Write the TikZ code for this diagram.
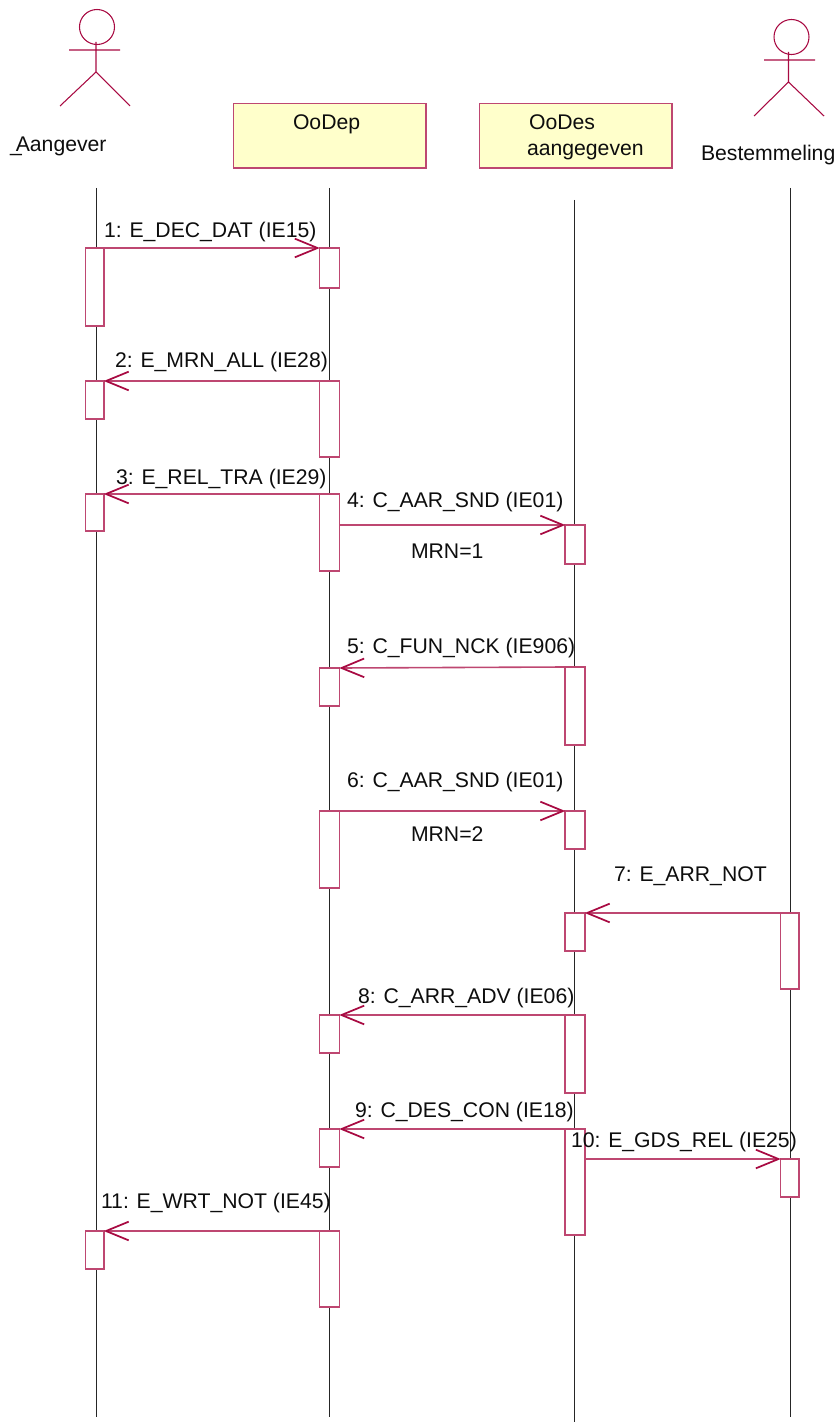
\documentclass[tikz,border=0pt]{standalone}
\usepackage{fontspec}
\setmainfont{Liberation Sans}
\usetikzlibrary{arrows.meta}
\definecolor{umlred}{HTML}{A80A42}
\definecolor{umlfill}{HTML}{FFFFCB}
\tikzset{
  life/.style={draw=black!85,line width=0.75pt},
  act/.style={draw=umlred!75,fill=white,line width=1.1pt,inner sep=0pt,outer sep=0pt,anchor=north west,minimum width=#1*0.75pt},
  act/.default=20,
  objbox/.style={draw=umlred!75,fill=umlfill,line width=1.1pt,inner sep=0pt,outer sep=0pt,anchor=north west,minimum width=192.5*0.75pt,minimum height=64.5*0.75pt},
  actorline/.style={draw=umlred,line width=0.8pt},
  msg/.style={draw=umlred!75,line width=1.2pt,shorten >=-0.2pt,-{Straight Barb[length=17pt,width=14pt,line width=1.3pt,color=umlred]}},
  txt/.style={font=\fontsize{15.9pt}{18pt}\selectfont,inner sep=0pt,outer sep=0pt,anchor=base west,text=black!95,yshift=-0.5pt},
}
\newcommand{\actv}[5]{\node[act=#3,minimum height=#5*0.75pt] (#1) at (#2,#4) {};}
\begin{document}
\begin{tikzpicture}[x=0.75pt,y=-0.75pt]
\useasboundingbox (0,0) rectangle (839,1423);
% lifelines
\coordinate (la) at (96,188);\coordinate (lab) at (96,1417);
\coordinate (lb) at (329.5,188);\coordinate (lbb) at (329.5,1417);
\coordinate (lc) at (574,200);\coordinate (lcb) at (574,1422);
\coordinate (ld) at (790.5,188);\coordinate (ldb) at (790.5,1417);
\draw[life] (la)--(lab);
\draw[life] (lb)--(lbb);
\draw[life] (lc)--(lcb);
\draw[life] (ld)--(ldb);
% actors
\node[draw=umlred,line width=0.8pt,circle,minimum size=35*0.75pt,inner sep=0pt,outer sep=0pt] (heada) at (97,27) {};
\coordinate (neck1) at (96,42);\coordinate (hip1) at (96,72);
\coordinate (arm1l) at (69,50);\coordinate (arm1r) at (120,50);
\coordinate (leg1l) at (60,106);\coordinate (leg1r) at (130,106);
\draw[actorline] (neck1)--(hip1) (arm1l)--(arm1r) (leg1l)--(hip1)--(leg1r);
\node[draw=umlred,line width=0.8pt,circle,minimum size=35*0.75pt,inner sep=0pt,outer sep=0pt] (headb) at (791.5,37) {};
\coordinate (neck2) at (788.5,52);\coordinate (hip2) at (788.5,82);
\coordinate (arm2l) at (764,60);\coordinate (arm2r) at (815,60);
\coordinate (leg2l) at (754,116);\coordinate (leg2r) at (824,116);
\draw[actorline] (neck2)--(hip2) (arm2l)--(arm2r) (leg2l)--(hip2)--(leg2r);
% objects
\node[objbox] (oodep) at (233.5,103.7) {};
\node[objbox] (oodes) at (479.5,103.7) {};
\node[txt] (toodep) at (293,129) {OoDep};
\node[txt] (toodes) at (529,129) {OoDes};
\node[txt] (taang) at (527,155) {aangegeven};
\node[txt] (taangever) at (10,151) {\_\kern-4.5pt Aangever};
\node[txt] (tbest) at (701,160) {Bestemmeling};
% activations
\actv{a1}{85.5}{18.5}{248}{78}
\actv{a2}{85.5}{18.5}{381}{38}
\actv{a3}{85.5}{18.5}{494}{37}
\actv{a4}{85.5}{18.5}{1231}{38}
\actv{b1}{319.5}{20}{248}{40}
\actv{b2}{319.5}{20}{381}{76}
\actv{b3}{319.5}{20}{494}{77}
\actv{b4}{319.5}{20}{668}{38}
\actv{b5}{319.5}{20}{811}{77}
\actv{b6}{319.5}{20}{1015}{38}
\actv{b7}{319.5}{20}{1129}{38}
\actv{b8}{319.5}{20}{1231}{76}
\actv{c1}{565}{20}{525}{39}
\actv{c2}{565}{20}{667}{78}
\actv{c3}{565}{20}{811}{38}
\actv{c4}{565}{20}{913}{38}
\actv{c5}{565}{20}{1015}{78}
\actv{c6}{565}{20}{1129}{106}
\actv{d1}{780.5}{18.5}{913}{76}
\actv{d2}{780.5}{18.5}{1159}{38}
% messages
\draw[msg] (a1.north east)--(b1.north west);
\draw[msg] (b2.north west)--(a2.north east);
\draw[msg] (b3.north west)--(a3.north east);
\draw[msg] (b3.east |- c1.north west)--(c1.north west);
\draw[msg] (c2.north west)--(b4.north east);
\draw[msg] (b5.north east)--(c3.north west);
\draw[msg] (d1.north west)--(c4.north east);
\draw[msg] (c5.north west)--(b6.north east);
\draw[msg] (c6.north west)--(b7.north east);
\draw[msg] (c6.east |- d2.north west)--(d2.north west);
\draw[msg] (b8.north west)--(a4.north east);
% labels
\node[txt] (m1) at (104,237) {1: E\_DEC\_DAT (IE15)};
\node[txt] (m2) at (115,367) {2: E\_MRN\_ALL (IE28)};
\node[txt] (m3) at (116,484) {3: E\_REL\_TRA (IE29)};
\node[txt] (m4) at (347,507) {4: C\_AAR\_SND (IE01)};
\node[txt] (g1) at (411,558) {MRN=1};
\node[txt] (m5) at (347,653) {5: C\_FUN\_NCK (IE906)};
\node[txt] (m6) at (347,787) {6: C\_AAR\_SND (IE01)};
\node[txt] (g2) at (411,841) {MRN=2};
\node[txt] (m7) at (614,881) {7: E\_ARR\_NOT};
\node[txt] (m8) at (358,1003) {8: C\_ARR\_ADV (IE06)};
\node[txt] (m9) at (355,1117) {9: C\_DES\_CON (IE18)};
\node[txt] (m10) at (571,1147) {10: E\_GDS\_REL (IE25)};
\node[txt] (m11) at (101,1208) {11: E\_WRT\_NOT (IE45)};
\end{tikzpicture}
\end{document}
